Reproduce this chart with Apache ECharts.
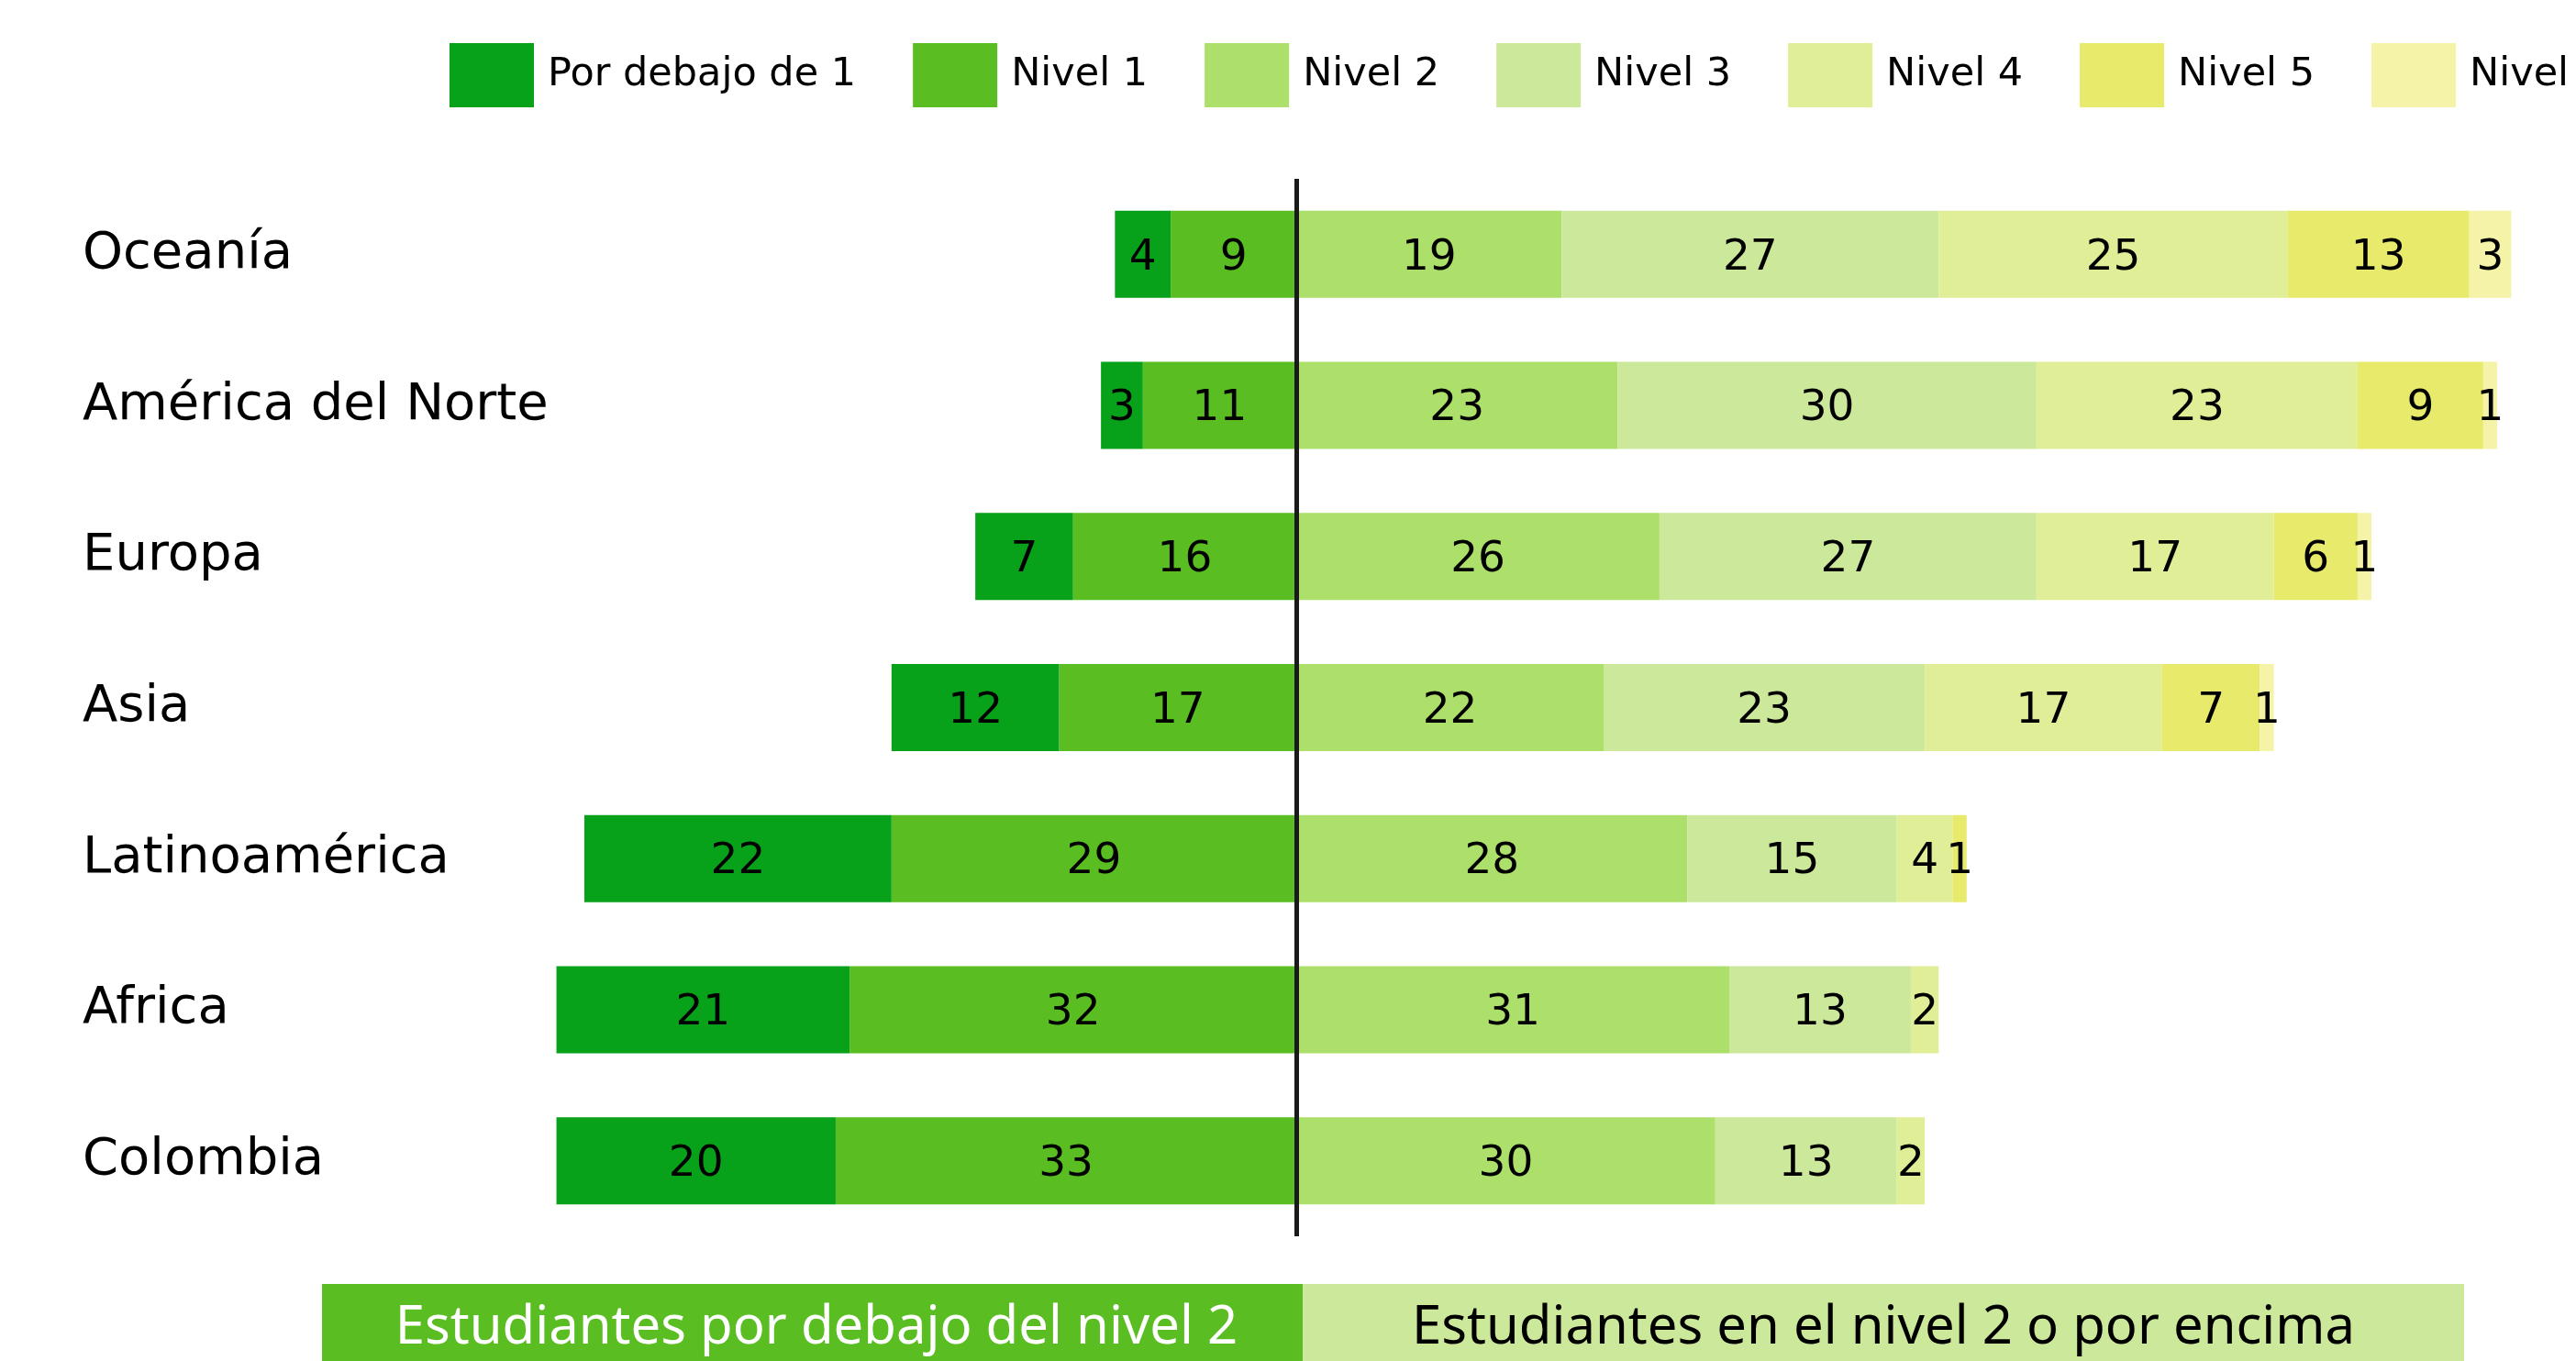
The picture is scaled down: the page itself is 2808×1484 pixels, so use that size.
<!DOCTYPE html>
<html>
<head>
<meta charset="utf-8">
<script src="https://cdn.jsdelivr.net/npm/echarts@6/dist/echarts.min.js"></script>
<style>
    html, body { margin: 0; padding: 0; background: #fff; }
    #chart { width: 2808px; height: 1484px; }
</style>
</head>
<body>
<div id="chart"></div>
<script>
// regiones, de arriba hacia abajo
var regiones = ['Oceanía', 'América del Norte', 'Europa', 'Asia', 'Latinoamérica', 'Africa', 'Colombia'];

// porcentajes por nivel
var porDebajo1 = [4, 3, 7, 12, 22, 21, 20];
var nivel1 = [9, 11, 16, 17, 29, 32, 33];
var nivel2 = [19, 23, 26, 22, 28, 31, 30];
var nivel3 = [27, 30, 27, 23, 15, 13, 13];
var nivel4 = [25, 23, 17, 17, 4, 2, 2];
var nivel5 = [13, 9, 6, 7, 1, 0, 0];
var nivel6 = [3, 1, 1, 1, 0, 0, 0];

var nombres = ['Por debajo de 1', 'Nivel 1', 'Nivel 2', 'Nivel 3', 'Nivel 4', 'Nivel 5', 'Nivel 6'];
var colores = ['#07a11a', '#5abe23', '#ade06b', '#cce89b', '#e0ef97', '#e8ea6b', '#f4f3a8'];

var myChart = echarts.init(document.getElementById('chart'));

function negativo(arr) {
    return arr.map(function (v) { return -v; });
}

function serie(nombre, datos, color) {
    return {
        name: nombre,
        type: 'bar',
        stack: 'total',
        barWidth: 95,
        itemStyle: { color: color },
        label: {
            show: true,
            position: 'inside',
            offset: [0, 4],
            color: '#000',
            fontFamily: 'DejaVu Sans',
            fontSize: 47,
            formatter: function (p) {
                return p.value === 0 ? '' : Math.abs(p.value);
            }
        },
        data: datos
    };
}

// los dos niveles inferiores van hacia la izquierda (Nivel 1 pegado al cero)
var series = [
    serie('Nivel 1', negativo(nivel1), colores[1]),
    serie('Por debajo de 1', negativo(porDebajo1), colores[0]),
    serie('Nivel 2', nivel2, colores[2]),
    serie('Nivel 3', nivel3, colores[3]),
    serie('Nivel 4', nivel4, colores[4]),
    serie('Nivel 5', nivel5, colores[5]),
    serie('Nivel 6', nivel6, colores[6])
];
// linea vertical en el cero
series[0].markLine = {
    symbol: 'none',
    silent: true,
    label: { show: false },
    lineStyle: { color: '#1a1a1a', width: 5, type: 'solid' },
    data: [{ xAxis: 0 }]
};

var option = {
    backgroundColor: '#fff',
    animation: false,
    legend: {
        data: nombres,
        left: 490,
        top: 47,
        padding: 0,
        width: 3000,
        itemWidth: 92,
        itemHeight: 70,
        itemGap: 62,
        icon: 'rect',
        textStyle: {
            fontFamily: 'DejaVu Sans',
            fontSize: 43,
            color: '#000',
            padding: [14, 0, 0, 10]
        }
    },
    grid: {
        left: 500,
        right: 25,
        top: 195,
        bottom: 136
    },
    xAxis: {
        type: 'value',
        min: -60,
        max: 90,
        show: false
    },
    yAxis: {
        type: 'category',
        inverse: true,
        data: regiones,
        axisLine: { show: false },
        axisTick: { show: false },
        axisLabel: {
            align: 'left',
            margin: 410,
            color: '#000',
            fontFamily: 'DejaVu Sans',
            fontSize: 56
        }
    },
    // franjas de abajo
    graphic: [
        {
            type: 'rect',
            shape: { x: 351, y: 1400, width: 1069, height: 84 },
            style: { fill: '#5abe23' }
        },
        {
            type: 'rect',
            shape: { x: 1420, y: 1400, width: 1266, height: 84 },
            style: { fill: '#cce89b' }
        },
        {
            type: 'text',
            x: 890,
            y: 1448,
            style: {
                text: 'Estudiantes por debajo del nivel 2',
                fill: '#fff',
                font: '58px "Noto Sans"',
                textAlign: 'center',
                textVerticalAlign: 'middle'
            }
        },
        {
            type: 'text',
            x: 2053,
            y: 1448,
            style: {
                text: 'Estudiantes en el nivel 2 o por encima',
                fill: '#000',
                font: '58px "Noto Sans"',
                textAlign: 'center',
                textVerticalAlign: 'middle'
            }
        }
    ],
    series: series
};

myChart.setOption(option);
</script>
</body>
</html>
